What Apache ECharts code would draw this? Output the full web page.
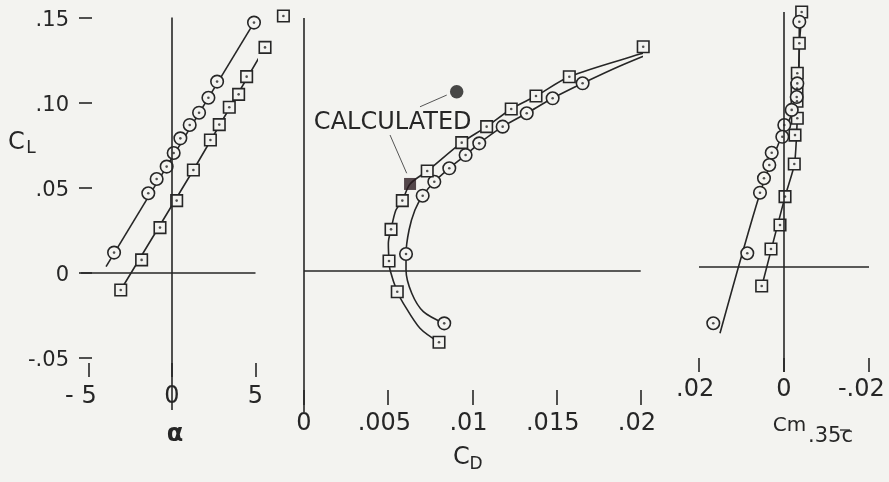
<!DOCTYPE html>
<html>
<head>
<meta charset="utf-8">
<script src="https://cdn.jsdelivr.net/npm/echarts@6/dist/echarts.min.js"></script>
<style>
  html, body { margin: 0; padding: 0; background: #f3f3f0; }
  #chart { width: 889px; height: 482px; }
</style>
</head>
<body>
<div id="chart"></div>
<script>
// ---------------- DATA ----------------
// Panel 1 : C_L against alpha (deg)
const alphaCircle   = [-3.47, -1.42, -0.92, -0.32, 0.10, 0.50, 1.06, 1.62, 2.18, 2.70, 4.91];
const clAlphaCircle = [0.0120, 0.0469, 0.0553, 0.0626, 0.0706, 0.0792, 0.0871, 0.0943, 0.1031, 0.1126, 0.1473];
const alphaSquare   = [-3.07, -1.82, -0.72, 0.28, 1.28, 2.30, 2.83, 3.43, 3.99, 4.47, 5.57, 6.67];
const clAlphaSquare = [-0.0100, 0.0077, 0.0267, 0.0426, 0.0606, 0.0782, 0.0873, 0.0975, 0.1051, 0.1155, 0.1327, 0.1512];
// faired lines drawn through the test points
const alphaCircleFair   = [-3.95, 4.91];
const clAlphaCircleFair = [0.0037, 0.1473];
const alphaSquareFair   = [-3.07, 1.28, 6.67];
const clAlphaSquareFair = [-0.0100, 0.0606, 0.1512];

// Panel 2 : C_L against C_D
const cdCircle     = [0.00833, 0.00606, 0.00705, 0.00774, 0.00863, 0.00960, 0.01041, 0.01180, 0.01323, 0.01477, 0.01655];
const clDragCircle = [-0.0308, 0.0100, 0.0443, 0.0525, 0.0604, 0.0682, 0.0751, 0.0849, 0.0928, 0.1016, 0.1104];
const cdSquare     = [0.00802, 0.00554, 0.00505, 0.00517, 0.00584, 0.00732, 0.00937, 0.01085, 0.01231, 0.01378, 0.01576, 0.02015];
const clDragSquare = [-0.0419, -0.0122, 0.0059, 0.0245, 0.0414, 0.0588, 0.0755, 0.0849, 0.0953, 0.1029, 0.1143, 0.1319];
const cdCircleFair = [0.00833, 0.00709, 0.00640, 0.00606, 0.00606, 0.00624, 0.00659, 0.00705, 0.00774, 0.00863, 0.00960, 0.01041, 0.01180, 0.01323, 0.01477, 0.01655, 0.01877, 0.02194];
const clCircleFair = [-0.0308, -0.0239, -0.0131, 0.0006, 0.0100, 0.0241, 0.0359, 0.0443, 0.0525, 0.0604, 0.0682, 0.0751, 0.0849, 0.0928, 0.1016, 0.1104, 0.1206, 0.1335];
const cdSquareFair = [0.00802, 0.00689, 0.00590, 0.00554, 0.00511, 0.00505, 0.00501, 0.00517, 0.00546, 0.00584, 0.00630, 0.00732, 0.00937, 0.01085, 0.01231, 0.01378, 0.01576, 0.01996, 0.02194];
const clSquareFair = [-0.0419, -0.0337, -0.0190, -0.0122, 0.0006, 0.0059, 0.0163, 0.0245, 0.0359, 0.0414, 0.0512, 0.0588, 0.0755, 0.0849, 0.0953, 0.1029, 0.1143, 0.1276, 0.1335];
// calculated points
const cdCalcCircle = [0.00907];
const clCalcCircle = [0.1055];
const cdCalcSquare = [0.00630];
const clCalcSquare = [0.0512];
// leader lines from the "CALCULATED" note  [from CD, from CL, to CD, to CL]
const leaderCircle = [0.00689, 0.0966, 0.00848, 0.1035];
const leaderSquare = [0.00511, 0.0800, 0.00610, 0.0575];

// Panel 3 : C_L against Cm .35c
const cmSquare       = [-0.00416, -0.00360, -0.00313, -0.00306, -0.00306, -0.00313, -0.00259, -0.00242, -0.00024, 0.00094, 0.00306, 0.00525];
const clMomentSquare = [0.1500, 0.1316, 0.1140, 0.1050, 0.0975, 0.0875, 0.0776, 0.0606, 0.0414, 0.0247, 0.0106, -0.0112];
const cmCircle       = [-0.00360, -0.00313, -0.00299, -0.00181, -0.00007, 0.00040, 0.00289, 0.00346, 0.00471, 0.00565, 0.00864, 0.01664];
const clMomentCircle = [0.1443, 0.1080, 0.1000, 0.0924, 0.0835, 0.0766, 0.0672, 0.0600, 0.0522, 0.0437, 0.0081, -0.0331];
const cmCircleFair   = [0.01506, 0.00565, 0.00094, -0.00219, -0.00336, -0.00360];
const clCircleMFair  = [-0.0390, 0.0434, 0.0747, 0.0924, 0.1080, 0.1443];
const cmSquareFair   = [0.00525, -0.00024, -0.00247, -0.00313, -0.00365, -0.00424];
const clSquareMFair  = [-0.0116, 0.0414, 0.0606, 0.0876, 0.1318, 0.1500];

// tick values and labels
const clTickValues    = [-0.05, 0, 0.05, 0.10, 0.15];
const clTickLabels    = ['-.05', '0', '.05', '.10', '.15'];
const alphaTickValues = [-5, 0, 5];
const alphaTickLabels = ['- 5', '0', '5'];
const cdTickValues    = [0, 0.005, 0.01, 0.015, 0.02];
const cdTickLabels    = ['0', '.005', '.01', '.015', '.02'];
const cmTickValues    = [0.02, 0, -0.02];
const cmTickLabels    = ['.02', '0', '-.02'];

// ---------------- STYLE / LAYOUT ----------------
const INK = '#262626';
const BG = '#f3f3f0';
const FONT = 'DejaVu Sans';
const CL_PX = 1700; // pixels per unit of C_L

const zip = (xs, ys) => xs.map((x, i) => [x, ys[i]]);
function lookup(vals, labs, v) {
  for (let i = 0; i < vals.length; i++) if (Math.abs(vals[i] - v) < 1e-9) return labs[i];
  return '';
}
// trailing spaces so the digits (not the leading '-' / '.') sit under the tick
function padLabel(t) {
  const m = t.match(/^[^0-9]*/)[0].length;
  return t === '0' ? t : t + ' '.repeat(m);
}

const gridBoxes = [
  { left: 81,  top: 17.5, width: 174.5, height: 392.5, zeroY: 273 },
  { left: 304, top: 18,   width: 336.7, height: 394,   zeroY: 271 },
  { left: 699, top: 12,   width: 170,   height: 360,   zeroY: 267 }
];
function yExt(g) {
  return { min: (g.zeroY - g.top - g.height) / CL_PX, max: (g.zeroY - g.top) / CL_PX };
}

const lineStyle = { color: INK, width: 1.6 };
const tickStyle = { color: INK, width: 1.6 };

function xAx(gi, min, max, offset, tickLen, margin, vals, labs, extra) {
  return Object.assign({
    gridIndex: gi, type: 'value', min, max, position: 'bottom', offset,
    axisLine: { show: false, onZero: false },
    splitLine: { show: false },
    axisTick: { show: true, customValues: vals, length: tickLen, lineStyle: tickStyle },
    axisLabel: {
      show: true, customValues: vals, margin, fontSize: 24, fontFamily: FONT, color: INK,
      formatter: v => padLabel(lookup(vals, labs, v))
    }
  }, extra || {});
}

const yAxes = gridBoxes.map((g, i) => {
  const e = yExt(g);
  if (i === 0) {
    return {
      gridIndex: 0, type: 'value', min: e.min, max: e.max, position: 'left', offset: -11,
      axisLine: { show: false, onZero: false },
      splitLine: { show: false },
      axisTick: { show: true, customValues: clTickValues, length: 13, lineStyle: tickStyle },
      axisLabel: {
        show: true, customValues: clTickValues, margin: 23, fontSize: 21, fontFamily: FONT, color: INK,
        formatter: v => '{t|' + lookup(clTickValues, clTickLabels, v) + '}',
        rich: { t: { fontSize: 21, fontFamily: FONT, color: INK, padding: [6, 0, 0, 0] } }
      }
    };
  }
  return {
    gridIndex: i, type: 'value', min: e.min, max: e.max, show: false,
    axisLine: { show: false, onZero: false }, splitLine: { show: false }
  };
});

const xAxes = [
  xAx(0, -5.45, 5, -47, 14, 22, alphaTickValues, alphaTickLabels),
  xAx(1, 0, 0.02, -22, 15, 22, cdTickValues, cdTickLabels),
  xAx(2, -0.02, 0.02, -14, 14, 20, cmTickValues, cmTickLabels, { inverse: true })
];

const crossLines = {
  symbol: ['none', 'none'], silent: true, label: { show: false },
  lineStyle: { color: INK, width: 1.6, type: 'solid' },
  emphasis: { disabled: true },
  data: [{ xAxis: 0 }, { yAxis: 0 }]
};

function fair(gi, data, smooth, withCross) {
  const s = {
    type: 'line', xAxisIndex: gi, yAxisIndex: gi, data, symbol: 'none', showSymbol: false,
    smooth: smooth || false, clip: false, silent: true, lineStyle, z: 2
  };
  if (withCross) s.markLine = crossLines;
  return s;
}
function marks(gi, data, symbol, size) {
  return {
    type: 'scatter', xAxisIndex: gi, yAxisIndex: gi, data, symbol, symbolSize: size,
    clip: false, silent: true, z: 3,
    itemStyle: { color: BG, borderColor: INK, borderWidth: 1.6, opacity: 1 }
  };
}
function dots(gi, data) {
  return {
    type: 'scatter', xAxisIndex: gi, yAxisIndex: gi, data, symbol: 'circle', symbolSize: 2.6,
    clip: false, silent: true, z: 4, itemStyle: { color: INK }
  };
}

const p1c = zip(alphaCircle, clAlphaCircle), p1s = zip(alphaSquare, clAlphaSquare);
const p2c = zip(cdCircle, clDragCircle), p2s = zip(cdSquare, clDragSquare);
const p3c = zip(cmCircle, clMomentCircle), p3s = zip(cmSquare, clMomentSquare);

const series = [
  // panel 1
  fair(0, zip(alphaCircleFair, clAlphaCircleFair), false, true),
  fair(0, zip(alphaSquareFair, clAlphaSquareFair), false, false),
  marks(0, p1c, 'circle', 12.5),
  marks(0, p1s, 'rect', 11.5),
  dots(0, p1c.concat(p1s)),
  // panel 2
  fair(1, zip(cdCircleFair, clCircleFair), 0.3, true),
  fair(1, zip(cdSquareFair, clSquareFair), 0.3, false),
  marks(1, p2c, 'circle', 12.5),
  marks(1, p2s, 'rect', 11.5),
  dots(1, p2c.concat(p2s)),
  {
    type: 'scatter', xAxisIndex: 1, yAxisIndex: 1, data: zip(cdCalcCircle, clCalcCircle),
    symbol: 'circle', symbolSize: 13.5, silent: true, z: 5, itemStyle: { color: '#1c1c1c' },
    markLine: {
      symbol: ['none', 'none'], silent: true, label: { show: false },
      lineStyle: { color: '#555', width: 1, type: 'solid' },
      data: [
        [{ coord: [leaderCircle[0], leaderCircle[1]] }, { coord: [leaderCircle[2], leaderCircle[3]] }],
        [{ coord: [leaderSquare[0], leaderSquare[1]] }, { coord: [leaderSquare[2], leaderSquare[3]] }]
      ]
    }
  },
  {
    type: 'scatter', xAxisIndex: 1, yAxisIndex: 1, data: zip(cdCalcSquare, clCalcSquare),
    symbol: 'rect', symbolSize: 12, silent: true, z: 5, itemStyle: { color: '#2a1a20' }
  },
  // panel 3
  fair(2, zip(cmCircleFair, clCircleMFair), 0.3, true),
  fair(2, zip(cmSquareFair, clSquareMFair), 0.2, false),
  marks(2, p3s, 'rect', 11.5),
  marks(2, p3c, 'circle', 12.5),
  dots(2, p3s.concat(p3c))
];

function txt(text, x, y, size, opts) {
  return {
    type: 'text', x, y, silent: true,
    style: Object.assign({
      text, fontSize: size, fontFamily: FONT, fill: INK, align: 'center', verticalAlign: 'middle'
    }, opts || {})
  };
}

const graphic = [
  // C_L
  txt('C', 16.5, 143, 24),
  txt('L', 31, 149, 17),
  // alpha
  txt('α', 175, 435, 24, { fontWeight: 'bold' }),
  // C_D
  txt('C', 461.5, 457.5, 24),
  txt('D', 476, 464.5, 17),
  // Cm .35c (with bar over the c)
  txt('Cm', 772.7, 426, 20, { align: 'left' }),
  txt('.35c', 808, 437, 21, { align: 'left' }),
  { type: 'line', silent: true, shape: { x1: 840, y1: 430, x2: 850, y2: 430 }, style: { stroke: INK, lineWidth: 1.3 } },
  // note
  txt('CALCULATED', 392.7, 123, 24)
];

const chart = echarts.init(document.getElementById('chart'), null, { renderer: 'canvas' });
chart.setOption({
  backgroundColor: BG,
  animation: false,
  textStyle: { fontFamily: FONT, color: INK },
  grid: gridBoxes.map(g => ({
    left: g.left, top: g.top, width: g.width, height: g.height,
    containLabel: false, outerBoundsMode: 'none', show: false
  })),
  xAxis: xAxes,
  yAxis: yAxes,
  series,
  graphic
});
</script>
</body>
</html>
